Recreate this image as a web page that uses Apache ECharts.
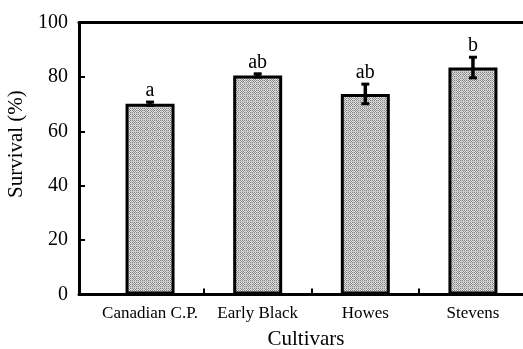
<!DOCTYPE html>
<html><head><meta charset="utf-8">
<script src="https://cdn.jsdelivr.net/npm/echarts@6/dist/echarts.min.js"></script>
<style>html,body{margin:0;padding:0;background:#fff}#c{width:523px;height:349px}</style>
</head><body><div id="c"></div>
<script>
const categories = ['Canadian C.P.', 'Early Black', 'Howes', 'Stevens'];
const survival = [70.2, 80.6, 73.8, 83.5];
const stdErr = [0.6, 0.6, 3.6, 3.8];
const letters = ['a', 'ab', 'ab', 'b'];
const yMin = 0, yMax = 100, yStep = 20;

// stippled gray fill pattern
function makePattern() {
  const c = document.createElement('canvas');
  c.width = 6; c.height = 6;
  const g = c.getContext('2d');
  for (let y = 0; y < 6; y++) {
    for (let x = 0; x < 6; x++) {
      let col;
      if (x === 5 || y === 5) col = '#c8c8c8';
      else col = ((x + y) % 2 === 0) ? '#858585' : '#e2e2e2';
      g.fillStyle = col; g.fillRect(x, y, 1, 1);
    }
  }
  return { image: c, repeat: 'repeat' };
}

const font = '"Liberation Serif", "Times New Roman", serif';
const positions = categories.map((_, i) => i + 1);
const tickPos = categories.slice(1).map((_, i) => i + 1.5);

const chart = echarts.init(document.getElementById('c'), null, { renderer: 'canvas' });
const xCommon = {
  type: 'value', min: 0.34, max: 4.465,
  splitLine: { show: false },
  axisLine: { show: true, onZero: false, lineStyle: { color: '#000', width: 3 } }
};
chart.setOption({
  animation: false,
  grid: { left: 79, right: 0, top: 22.7, bottom: 54.5, containLabel: false, outerBoundsMode: 'none' },
  xAxis: [
    Object.assign({}, xCommon, {
      position: 'bottom',
      axisTick: { show: true, inside: true, length: 6, customValues: tickPos, lineStyle: { color: '#000', width: 2 } },
      axisLabel: { customValues: positions, formatter: v => categories[Math.round(v) - 1] || '', color: '#000', fontFamily: font, fontSize: 17, margin: 11 },
      name: 'Cultivars', nameLocation: 'middle', nameGap: 34,
      nameTextStyle: { color: '#000', fontFamily: font, fontSize: 21, padding: [0, 0, 0, 10] }
    }),
    Object.assign({}, xCommon, {
      position: 'top',
      axisTick: { show: false }, axisLabel: { show: false }
    })
  ],
  yAxis: {
    type: 'value', min: yMin, max: yMax, interval: yStep,
    axisLine: { show: true, onZero: false, lineStyle: { color: '#000', width: 3 } },
    axisTick: { show: true, inside: true, length: 6, lineStyle: { color: '#000', width: 2 } },
    axisLabel: { color: '#000', fontFamily: font, fontSize: 20, margin: 11 },
    splitLine: { show: false },
    name: 'Survival (%)', nameLocation: 'middle', nameGap: 50,
    nameTextStyle: { color: '#000', fontFamily: font, fontSize: 21, padding: [0, 0, 0, 29] }
  },
  series: [
    {
      type: 'bar', xAxisIndex: 0,
      data: survival.map((v, i) => [positions[i], v]),
      barWidth: 49,
      itemStyle: { color: makePattern(), borderColor: '#000', borderWidth: 3 }
    },
    {
      type: 'custom', xAxisIndex: 0, z: 5,
      data: survival.map((v, i) => [positions[i], v, stdErr[i]]),
      renderItem: function (params, api) {
        const x = api.value(0), m = api.value(1), e = api.value(2);
        const pT = api.coord([x, m + e]);
        const pB = api.coord([x, m - e]);
        const cap = 4;
        return {
          type: 'group', children: [
            { type: 'line', shape: { x1: pT[0], y1: pT[1], x2: pB[0], y2: pB[1] }, style: { stroke: '#000', lineWidth: 3.5 } },
            { type: 'line', shape: { x1: pT[0] - cap, y1: pT[1], x2: pT[0] + cap, y2: pT[1] }, style: { stroke: '#000', lineWidth: 3 } },
            { type: 'line', shape: { x1: pB[0] - cap, y1: pB[1], x2: pB[0] + cap, y2: pB[1] }, style: { stroke: '#000', lineWidth: 3 } },
            { type: 'text', style: { text: letters[params.dataIndex], x: pT[0], y: pT[1] - 1, align: 'center', verticalAlign: 'bottom', font: '20px ' + font, fill: '#000' } }
          ]
        };
      }
    }
  ]
});
</script></body></html>
